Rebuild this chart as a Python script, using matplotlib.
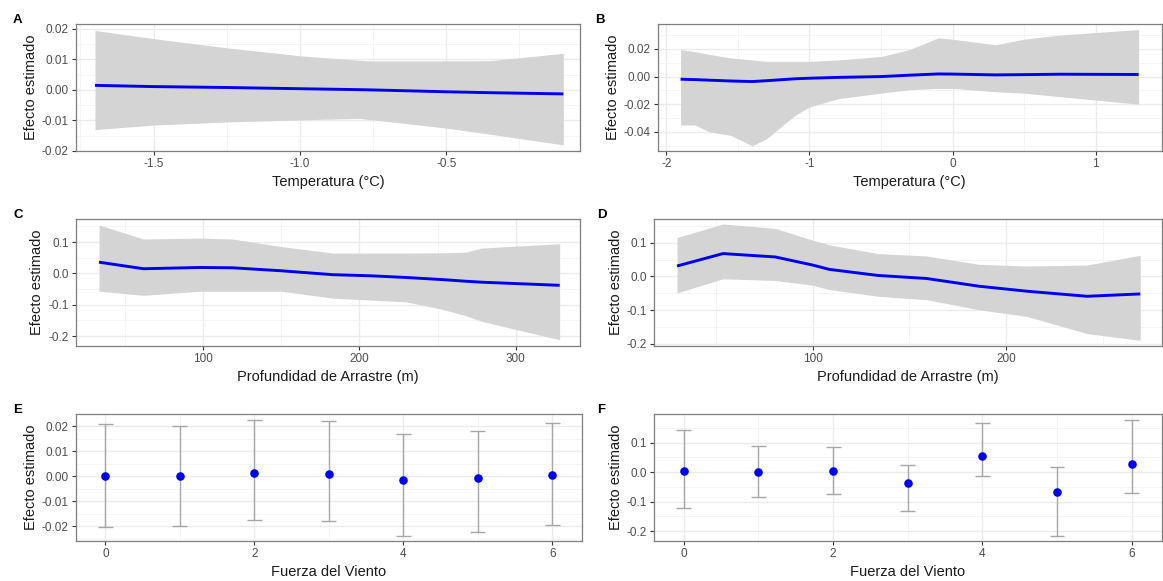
import matplotlib
matplotlib.use("Agg")
import matplotlib.pyplot as plt
from matplotlib.ticker import FixedLocator
import numpy as np

plt.rcParams['font.family'] = ['Liberation Sans', 'DejaVu Sans']

# ---- Panel A: Temperatura (model 1)
a_x = [-1.7, -1.5, -1.25, -1.0, -0.8, -0.75, -0.5, -0.35, -0.1]
a_fit = [0.0015, 0.0011, 0.0008, 0.0004, 0.0001, 0.0000, -0.0006, -0.0009, -0.0013]
a_hi = [0.0195, 0.0168, 0.0138, 0.0112, 0.0097, 0.0095, 0.0095, 0.0096, 0.0120]
a_lo = [-0.0130, -0.0115, -0.0105, -0.0098, -0.0093, -0.0098, -0.0125, -0.0145, -0.0180]

# ---- Panel B: Temperatura (model 2)
b_x = [-1.9, -1.8, -1.7, -1.55, -1.4, -1.3, -1.1, -1.0, -0.8, -0.5, -0.3, -0.1, 0.0, 0.3, 0.5, 0.75, 1.3]
b_fit = [-0.0019, -0.0022, -0.0026, -0.0032, -0.0036, -0.0030, -0.0016, -0.0012, -0.0006, 0.0,
         0.0010, 0.0019, 0.0018, 0.0012, 0.0014, 0.0017, 0.0015]
b_hi = [0.0195, 0.018, 0.016, 0.0135, 0.012, 0.011, 0.011, 0.011, 0.012, 0.0145,
        0.0195, 0.028, 0.027, 0.023, 0.027, 0.030, 0.034]
b_lo = [-0.035, -0.035, -0.040, -0.0425, -0.050, -0.045, -0.028, -0.022, -0.016, -0.012,
        -0.0095, -0.0085, -0.0085, -0.011, -0.012, -0.0145, -0.020]

# ---- Panel C: Profundidad (model 1)
c_x = [33.6, 62, 98, 119, 150, 183, 207, 230, 254, 268, 278, 328]
c_fit = [0.036, 0.015, 0.019, 0.018, 0.0085, -0.004, -0.0075, -0.013, -0.020, -0.025, -0.028, -0.038]
c_hi = [0.155, 0.110, 0.113, 0.110, 0.086, 0.065, 0.065, 0.065, 0.066, 0.068, 0.081, 0.095]
c_lo = [-0.057, -0.070, -0.057, -0.057, -0.057, -0.079, -0.085, -0.091, -0.116, -0.135, -0.153, -0.212]

# ---- Panel D: Profundidad (model 2)
d_x = [29.9, 53.7, 80.7, 100, 108.7, 133.8, 158.9, 186, 211, 242, 269.5]
d_fit = [0.031, 0.068, 0.058, 0.034, 0.021, 0.003, -0.006, -0.029, -0.044, -0.059, -0.052]
d_hi = [0.116, 0.156, 0.143, 0.108, 0.094, 0.068, 0.061, 0.036, 0.031, 0.034, 0.063]
d_lo = [-0.049, -0.007, -0.012, -0.026, -0.039, -0.059, -0.069, -0.099, -0.119, -0.170, -0.190]

# ---- Panel E/F: Fuerza del Viento
wind = [0, 1, 2, 3, 4, 5, 6]
e_est = [0.0000, -0.0001, 0.0012, 0.0009, -0.0017, -0.0009, 0.0004]
e_hi = [0.0207, 0.0200, 0.0225, 0.0221, 0.0167, 0.0180, 0.0214]
e_lo = [-0.0203, -0.0200, -0.0174, -0.0178, -0.0240, -0.0225, -0.0195]
f_est = [0.0056, 0.0010, 0.0034, -0.035, 0.054, -0.066, 0.027]
f_hi = [0.142, 0.090, 0.086, 0.024, 0.167, 0.019, 0.177]
f_lo = [-0.120, -0.085, -0.073, -0.133, -0.012, -0.215, -0.070]

xmaj_labels = {
    'A': ['-1.5', '-1.0', '-0.5'],
    'B': ['-2', '-1', '0', '1'],
    'C': ['100', '200', '300'],
    'D': ['100', '200'],
    'E': ['0', '2', '4', '6'],
    'F': ['0', '2', '4', '6'],
}

W, H = 1163, 581
fig = plt.figure(figsize=(W / 100, H / 100), dpi=100)

def make_ax(l, r, t, b):
    return fig.add_axes([l / W, 1 - b / H, (r - l) / W, (b - t) / H])

BLUE = '#0000EE'
RIB = '#D4D4D4'

def style(ax, xmaj, xmin, ymaj, ymin, xlim, ylim, xlabel, letter, yfmt, letter_x):
    ax.set_xlim(*xlim)
    ax.set_ylim(*ylim)
    ax.xaxis.set_major_locator(FixedLocator(xmaj))
    ax.xaxis.set_minor_locator(FixedLocator(xmin))
    ax.yaxis.set_major_locator(FixedLocator(ymaj))
    ax.yaxis.set_minor_locator(FixedLocator(ymin))
    ax.set_xticklabels(xmaj_labels[letter])
    ax.set_yticklabels([yfmt.format(v) for v in ymaj])
    ax.grid(True, which='major', color='#EBEBEB', lw=1.0, zorder=0)
    ax.grid(True, which='minor', color='#F2F2F2', lw=0.6, zorder=0)
    ax.set_axisbelow(True)
    for s in ax.spines.values():
        s.set_color('#7F7F7F')
        s.set_linewidth(0.9)
    ax.tick_params(which='major', length=3, width=0.8, color='#333333',
                   labelsize=8.5, labelcolor='#4D4D4D', pad=2)
    ax.tick_params(which='minor', length=0)
    ax.set_xlabel(xlabel, fontsize=10.5, color='#1A1A1A', labelpad=4)
    ax.set_ylabel('Efecto estimado', fontsize=10.5, color='#1A1A1A', labelpad=3)
    pos = ax.get_position()
    fig.text(letter_x / W, pos.y1 - 2 / H, letter, fontsize=9.5,
             fontweight='bold', ha='left', va='bottom')

def ribbon(ax, x, fit, lo, hi):
    ax.fill_between(x, lo, hi, color=RIB, lw=0, zorder=2)
    ax.plot(x, fit, color=BLUE, lw=2.1, zorder=3, solid_capstyle='butt')

def points(ax, x, est, lo, hi):
    x = np.asarray(x, float)
    est = np.asarray(est)
    ax.errorbar(x, est, yerr=[est - np.asarray(lo), np.asarray(hi) - est], fmt='none',
                ecolor='#A6A6A6', elinewidth=1.0, capsize=0, zorder=2)
    ax.hlines(lo, x - 0.1, x + 0.1, color='#A6A6A6', lw=1.0, zorder=2)
    ax.hlines(hi, x - 0.1, x + 0.1, color='#A6A6A6', lw=1.0, zorder=2)
    ax.scatter(x, est, s=38, color='#0000F0', zorder=3, linewidths=0)

axA = make_ax(75.7, 580, 24, 151)
ribbon(axA, a_x, a_fit, a_lo, a_hi)
style(axA, [-1.5, -1.0, -0.5], [-1.75, -1.25, -0.75, -0.25], [-0.02, -0.01, 0.0, 0.01, 0.02],
      [-0.015, -0.005, 0.005, 0.015], (-1.766, -0.043), (-0.0200, 0.0216),
      'Temperatura (°C)', 'A', '{:.2f}', 13)

axB = make_ax(657.7, 1161.5, 24, 151)
ribbon(axB, b_x, b_fit, b_lo, b_hi)
style(axB, [-2, -1, 0, 1], [-1.5, -0.5, 0.5], [-0.04, -0.02, 0.0, 0.02],
      [-0.05, -0.03, -0.01, 0.01, 0.03], (-2.06, 1.46), (-0.0538, 0.038),
      'Temperatura (°C)', 'B', '{:.2f}', 595)

axC = make_ax(75.7, 580, 219.3, 345.7)
ribbon(axC, c_x, c_fit, c_lo, c_hi)
style(axC, [100, 200, 300], [50, 150, 250], [-0.2, -0.1, 0.0, 0.1],
      [-0.15, -0.05, 0.05, 0.15], (18.7, 341), (-0.231, 0.173),
      'Profundidad de Arrastre (m)', 'C', '{:.1f}', 13)

axD = make_ax(654, 1161.5, 219.3, 345.7)
ribbon(axD, d_x, d_fit, d_lo, d_hi)
style(axD, [100, 200], [50, 150, 250], [-0.2, -0.1, 0.0, 0.1],
      [-0.15, -0.05, 0.05, 0.15], (18, 280.5), (-0.206, 0.17),
      'Profundidad de Arrastre (m)', 'D', '{:.1f}', 597)

axE = make_ax(75.7, 582, 414.3, 541)
points(axE, wind, e_est, e_lo, e_hi)
style(axE, [0, 2, 4, 6], [1, 3, 5], [-0.02, -0.01, 0.0, 0.01, 0.02],
      [-0.025, -0.015, -0.005, 0.005, 0.015], (-0.4, 6.4), (-0.026, 0.0247),
      'Fuerza del Viento', 'E', '{:.2f}', 13)

axF = make_ax(654, 1161.5, 414.3, 541)
points(axF, wind, f_est, f_lo, f_hi)
style(axF, [0, 2, 4, 6], [1, 3, 5], [-0.2, -0.1, 0.0, 0.1],
      [-0.15, -0.05, 0.05, 0.15], (-0.4, 6.4), (-0.233, 0.196),
      'Fuerza del Viento', 'F', '{:.1f}', 597)

fig.savefig('out.png', dpi=100, facecolor='white')
